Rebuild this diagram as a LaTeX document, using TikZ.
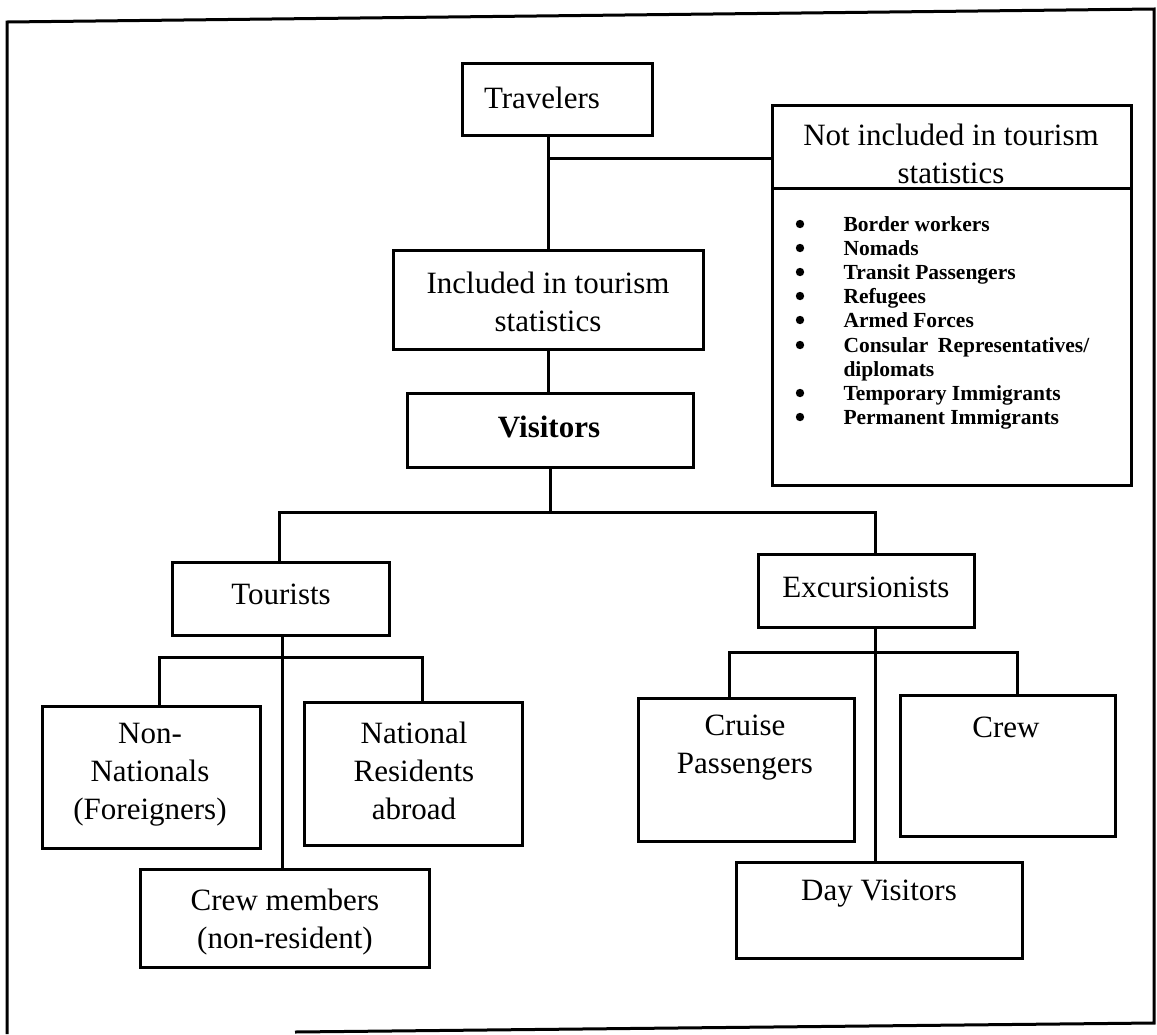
\documentclass[tikz,border=0pt]{standalone}
\usepackage{fontspec}
\setmainfont{Liberation Serif}
\newcommand\mkbox[5]{\node[box, minimum width={#4-#2}, minimum height={#5-#3}] (#1) at ({(#2+#4)/2},{(#3+#5)/2}) {};}
\begin{document}
\begin{tikzpicture}[x=1pt,y=-1pt, line width=3pt,
  box/.style={draw, line width=3pt, rectangle, inner sep=0pt},
  lbl/.style={align=center, font=\fontsize{31}{38}\selectfont, inner sep=0pt},
  lst/.style={font=\bfseries\fontsize{21.5}{24}\selectfont, inner sep=0pt, anchor=base west}]
\useasboundingbox (0,0) rectangle (1157,1034);
% outer frame
\draw (7,1034) -- (7,22) -- (1154,9) -- (1154,1023) -- (295,1032);
% boxes
\mkbox{trav}{462}{63}{652}{135}
\mkbox{notinc}{772}{105}{1131}{485}
\mkbox{incl}{393}{250}{703}{349}
\mkbox{vis}{407}{393}{693}{467}
\mkbox{tour}{172}{562}{389}{635}
\mkbox{exc}{758}{554}{974}{627}
\mkbox{nonnat}{42}{706}{260}{848}
\mkbox{natres}{304}{702}{522}{845}
\mkbox{crewm}{140}{869}{429}{967}
\mkbox{cruise}{638}{698}{854}{841}
\mkbox{crew}{900}{695}{1115}{836}
\mkbox{day}{736}{862}{1022}{958}
\coordinate (sepL) at (772,188);
\coordinate (sepR) at (1131,188);
\draw (sepL) -- (sepR);
% texts
\node[lbl] (travT) at (542,98) {Travelers};
\node[lbl] (notincT) at (951,154) {Not included in tourism\\statistics};
\node[lbl] (inclT) at (548,302) {Included in tourism\\statistics};
\node[lbl, font=\bfseries\fontsize{31}{38}\selectfont] (visT) at (549,427) {Visitors};
\node[lbl] (tourT) at (281,594) {Tourists};
\node[lbl] (excT) at (866,587) {Excursionists};
\node[lbl] (nonnatT) at (150,775) {Non-\\Nationals\\(Foreigners)};
\node[lbl] (natresT) at (414,771) {National\\Residents\\abroad};
\node[lbl] (crewmT) at (285,922) {Crew members\\(non-resident)};
\node[lbl] (cruiseT) at (745,748) {Cruise\\Passengers};
\node[lbl] (crewT) at (1006,727) {Crew};
\node[lbl] (dayT) at (879,894) {Day Visitors};
% list
\foreach \yy in {224,248,272,296,320,345,393,417} \fill (800,\yy) circle (4.2);
\node[lst] (l1) at (842,231) {Border workers};
\node[lst] (l2) at (842,255) {Nomads};
\node[lst] (l3) at (842,279) {Transit Passengers};
\node[lst] (l4) at (842,303) {Refugees};
\node[lst] (l5) at (842,327) {Armed Forces};
\node[lst] (l6) at (842,352) {Consular\hspace{0.45em}Representatives/};
\node[lst] (l7) at (842,376) {diplomats};
\node[lst] (l8) at (842,400) {Temporary Immigrants};
\node[lst] (l9) at (842,424) {Permanent Immigrants};
% connectors
\coordinate (j1) at (548,158);
\draw (incl.north -| j1) -- (j1 |- trav.south);
\draw (j1) -- (j1 -| notinc.west);
\draw (incl.south -| j1) -- (vis.north -| j1);
\coordinate (b1L) at (279,512);
\coordinate (b1M) at (550,512);
\coordinate (b1R) at (875,512);
\draw (vis.south -| b1M) -- (b1M);
\draw (tour.north -| b1L) -- (b1L) -- (b1R) -- (exc.north -| b1R);
\coordinate (t2) at (282,657);
\coordinate (b2L) at (159,657);
\coordinate (b2R) at (422,657);
\draw (tour.south -| t2) -- (crewm.north -| t2);
\draw (nonnat.north -| b2L) -- (b2L) -- (b2R) -- (natres.north -| b2R);
\coordinate (e2) at (875,652);
\coordinate (b3L) at (729,652);
\coordinate (b3R) at (1017,652);
\draw (exc.south -| e2) -- (day.north -| e2);
\draw (cruise.north -| b3L) -- (b3L) -- (b3R) -- (crew.north -| b3R);
\end{tikzpicture}
\end{document}
